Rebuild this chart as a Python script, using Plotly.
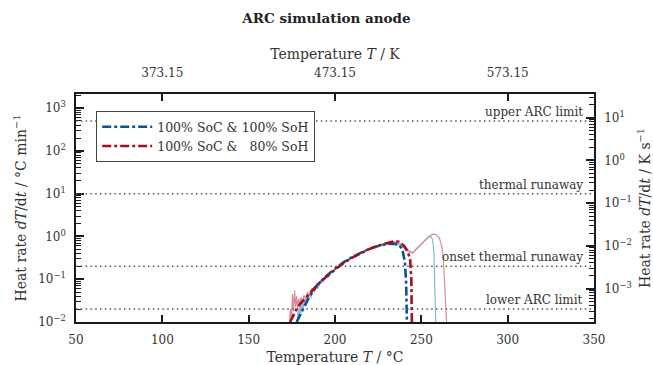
import plotly.graph_objects as go
import math

# --- data ---
t_model_100 = [177.8, 180, 182, 185, 190, 195, 200, 205, 210, 215, 220, 225, 230, 234, 237, 239, 240.5, 241.2, 241.6, 241.8]
hr_model_100 = [0.01, 0.015, 0.022, 0.038, 0.075, 0.12, 0.175, 0.25, 0.33, 0.42, 0.52, 0.6, 0.66, 0.68, 0.64, 0.5, 0.25, 0.08, 0.01, 0.005]

t_model_80 = [174, 176, 178, 180, 185, 190, 195, 200, 205, 210, 215, 220, 225, 230, 234, 237, 240, 242, 243.5, 244.2, 244.5, 244.6]
hr_model_80 = [0.01, 0.015, 0.021, 0.027, 0.045, 0.075, 0.115, 0.17, 0.24, 0.32, 0.41, 0.51, 0.61, 0.71, 0.77, 0.75, 0.6, 0.45, 0.3, 0.1, 0.02, 0.005]

t_raw_100 = [178.0, 178.6, 179.2, 179.8, 180.4, 181.0, 181.6, 182.2, 182.8, 183.4, 184.0, 185.0, 186.0, 187.0, 188.0, 189.0, 190.0, 191.5, 193.0, 194.5, 196.0, 197.5, 199.0, 201.0, 203.0, 205.0, 210.0, 215.0, 220.0, 225.0, 230.0, 235.0, 238.0, 241.0, 243.0, 245.0, 248.0, 251.0, 254.0, 255.5, 256.5, 257.3, 257.8, 258.2, 258.5]
hr_raw_100 = [0.008, 0.02, 0.012, 0.025, 0.016, 0.03, 0.02, 0.032, 0.024, 0.04, 0.03, 0.045, 0.036, 0.055, 0.05, 0.068, 0.06, 0.09, 0.085, 0.115, 0.11, 0.145, 0.15, 0.19, 0.215, 0.25, 0.33, 0.42, 0.52, 0.6, 0.66, 0.68, 0.62, 0.5, 0.43, 0.41, 0.55, 0.75, 0.95, 1.0, 0.85, 0.4, 0.1, 0.02, 0.005]

t_raw_80 = [173.5, 174.2, 174.8, 175.4, 176.0, 176.6, 177.2, 177.8, 178.4, 179.0, 179.6, 180.2, 181.0, 182.0, 183.0, 184.0, 185.0, 186.5, 188.0, 189.5, 191.0, 192.5, 194.0, 196.0, 198.0, 200.0, 203.0, 206.0, 210.0, 215.0, 220.0, 225.0, 230.0, 234.0, 238.0, 241.0, 243.0, 245.0, 248.0, 251.0, 254.0, 256.5, 258.5, 260.5, 262.0, 263.0, 263.8, 264.5, 265.0]
hr_raw_80 = [0.008, 0.02, 0.012, 0.045, 0.018, 0.055, 0.022, 0.04, 0.02, 0.035, 0.024, 0.038, 0.028, 0.042, 0.034, 0.05, 0.042, 0.06, 0.058, 0.08, 0.078, 0.1, 0.1, 0.13, 0.145, 0.17, 0.215, 0.26, 0.32, 0.41, 0.51, 0.61, 0.71, 0.76, 0.68, 0.55, 0.46, 0.42, 0.56, 0.76, 0.98, 1.13, 1.1, 0.9, 0.55, 0.2, 0.05, 0.01, 0.005]

limit_values = [500, 10, 0.2, 0.02]
limit_labels = ["upper ARC limit", "thermal runaway", "onset thermal runaway", "lower ARC limit"]

x_ticks = [50, 100, 150, 200, 250, 300, 350]
top_ticks = [373.15, 473.15, 573.15]
left_exps = [-2, -1, 0, 1, 2, 3]
right_exps = [-3, -2, -1, 0, 1]

KELVIN = 273.15
MIN_PER_S = 60.0

FONT = "DejaVu Serif, serif"
BLUE = "#0a5397"
RED = "#a3101c"
LBLUE = "#8ab6da"
LRED = "#d98c98"
TXT = "#333333"
AX = "#1a1a1a"

fig = go.Figure()
fig.add_trace(go.Scatter(x=t_raw_100, y=hr_raw_100, mode="lines", line=dict(color=LBLUE, width=1.2), showlegend=False))
fig.add_trace(go.Scatter(x=t_raw_80, y=hr_raw_80, mode="lines", line=dict(color=LRED, width=1.2), showlegend=False))
fig.add_trace(go.Scatter(x=t_model_100, y=hr_model_100, mode="lines", line=dict(color=BLUE, width=2.6, dash="dashdot"),
                         name="100% SoC &amp; 100% SoH"))
fig.add_trace(go.Scatter(x=t_model_80, y=hr_model_80, mode="lines", line=dict(color=RED, width=2.6, dash="dashdot"),
                         name="100% SoC &amp;   80% SoH"))
# invisible helper traces so that secondary axes are drawn
for xa, ya, scale_x, scale_y in [("x2", "y2", KELVIN, MIN_PER_S), ("x", "y3", 0, 1), ("x", "y4", 0, MIN_PER_S)]:
    fig.add_trace(go.Scatter(x=[t + scale_x for t in t_model_100[:2]], y=[v / scale_y for v in hr_model_100[:2]],
                             xaxis=xa, yaxis=ya, mode="lines", line=dict(width=0), opacity=0,
                             showlegend=False, hoverinfo="skip"))

for v, lab in zip(limit_values, limit_labels):
    fig.add_shape(type="line", xref="paper", x0=0, x1=1, yref="y", y0=v, y1=v,
                  line=dict(color="#555555", width=1.5, dash="1.5px,3.3px"))
    fig.add_annotation(x=0.983, xref="paper", y=math.log10(v), yref="y", text=lab, showarrow=False,
                       xanchor="right", yanchor="bottom", yshift=0, font=dict(family=FONT, size=12, color=TXT))

y_lo, y_hi = -2.0, 3.33
y_shift = math.log10(MIN_PER_S)
sup = lambda e: "10<sup>" + (str(e).replace("-", "−")) + "</sup>"
axis_common = dict(showline=True, linecolor=AX, linewidth=1.6, ticks="inside", tickcolor=AX, tickwidth=1.6,
                   showgrid=False, zeroline=False, automargin=False, tickfont=dict(family=FONT, size=12, color=TXT))
minor_common = dict(type="log", ticks="inside", ticklen=5, tickcolor=AX, tickwidth=1.4, showticklabels=False,
                    showgrid=False, tickmode="linear", tick0=0, dtick="D1")

fig.update_layout(
    width=653, height=365,
    margin=dict(l=76, r=59, t=94, b=43, autoexpand=False),
    plot_bgcolor="white", paper_bgcolor="white",
    font=dict(family=FONT, color=TXT),
    title=dict(text="<b>ARC simulation anode</b>", x=0.5, xanchor="center", y=0.95, yanchor="middle",
               font=dict(family=FONT, size=13.5, color="#222222")),
    showlegend=True,
    legend=dict(x=0.039, y=0.925, xanchor="left", yanchor="top", bordercolor="#444444", borderwidth=1,
                bgcolor="white", font=dict(family=FONT, size=12.5, color=TXT), tracegroupgap=0, itemwidth=50),
    xaxis=dict(range=[50, 350], tickvals=x_ticks, ticklen=7, side="bottom", ticklabelstandoff=6,
               title=dict(text="Temperature <i>T</i> / °C", font=dict(family=FONT, size=14, color=TXT), standoff=6),
               **axis_common),
    xaxis2=dict(range=[50 + KELVIN, 350 + KELVIN], tickvals=top_ticks, ticktext=[f"{v:.2f}" for v in top_ticks],
                overlaying="x", side="top", anchor="y", ticklen=7, ticklabelstandoff=10,
                title=dict(text="Temperature <i>T</i> / K", font=dict(family=FONT, size=14, color=TXT), standoff=4),
                **axis_common),
    yaxis=dict(type="log", range=[y_lo, y_hi], tickvals=[10 ** e for e in left_exps], ticktext=[sup(e) for e in left_exps],
               ticklen=8, ticklabelstandoff=6,
               title=dict(text="Heat rate <i>dT</i>/d<i>t</i> / °C min<sup>−1</sup>", font=dict(family=FONT, size=14, color=TXT), standoff=8),
               **axis_common),
    yaxis2=dict(type="log", range=[y_lo - y_shift, y_hi - y_shift], overlaying="y", side="right",
                anchor="x", tickvals=[10 ** e for e in right_exps], ticktext=[sup(e) for e in right_exps],
                ticklen=8, ticklabelstandoff=6,
                title=dict(text="Heat rate <i>dT</i>/d<i>t</i> / K s<sup>−1</sup>", font=dict(family=FONT, size=14, color=TXT), standoff=10),
                **axis_common),
    yaxis3=dict(range=[y_lo, y_hi], overlaying="y", side="left", anchor="x", **minor_common),
    yaxis4=dict(range=[y_lo - y_shift, y_hi - y_shift], overlaying="y", side="right", anchor="x", **minor_common),
)

fig.write_html("out.html")
